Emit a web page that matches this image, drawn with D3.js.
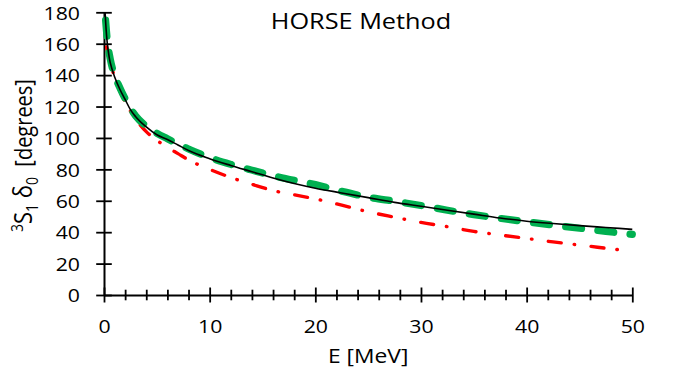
<!DOCTYPE html>
<html>
<head>
<meta charset="utf-8">
<script src="https://cdn.jsdelivr.net/npm/d3@7"></script>
<style>
  html, body { margin: 0; padding: 0; background: #fff; }
  svg { display: block; font-family: "Open Sans", sans-serif; }
</style>
</head>
<body>
<svg id="chart" width="675" height="373"></svg>
<script>
// ---- data: 3S1 phase shift (degrees) versus energy E (MeV) ----
const blackE = [0.1, 0.2, 0.3, 0.5, 0.75, 1, 1.5, 2, 2.5, 3, 4, 5, 6, 7, 8, 10, 12, 14, 16, 18, 20, 22.5, 25, 27.5, 30, 32.5, 35, 37.5, 40, 42.5, 45, 47.5, 50];
const blackDelta = [180, 169, 161, 151, 144, 139, 131, 124.5, 118, 113.5, 107, 102, 99, 95.5, 92, 86.8, 82.5, 78.5, 74.5, 71, 68, 65, 62, 59, 56.5, 54, 51.5, 49, 47, 45.5, 44.2, 43, 41.8];

const greenE = [0.15, 0.3, 0.6, 1, 1.5, 2, 3, 4, 5, 6, 8, 10, 12, 14, 16, 18, 20, 22.5, 25, 27.5, 30, 32.5, 35, 37.5, 40, 42.5, 45, 47.5, 50];
const greenDelta = [175, 163, 150, 140, 132, 125, 114, 107.5, 103, 99.5, 93, 87.5, 83.2, 79.5, 76, 73, 70.3, 66, 62.3, 59.7, 57, 54, 51.2, 48.8, 46.6, 44.5, 42.5, 40.5, 38.6];

const redE = [0.25, 0.5, 1, 1.5, 2, 3, 4, 5, 6, 7, 8, 10, 12, 14, 16, 18, 20, 22.5, 25, 27.5, 30, 32.5, 35, 37.5, 40, 42.5, 45, 47.5, 49];
const redDelta = [158, 150, 139, 130, 123, 112, 104, 98.5, 94, 90, 86, 80, 74.8, 70.5, 66.5, 63.8, 61.2, 57.2, 53, 49.5, 46.2, 43.5, 40.5, 38.2, 36, 33.8, 31.8, 29.8, 28.6];

const xMajorTicks = [0, 10, 20, 30, 40, 50];
const xMinorTicks = [2, 4, 6, 8, 12, 14, 16, 18, 22, 24, 26, 28, 32, 34, 36, 38, 42, 44, 46, 48];
const yTicks = [0, 20, 40, 60, 80, 100, 120, 140, 160, 180];

const titleText = "HORSE Method";
const xTitle = "E [MeV]";

// ---- layout ----
const SX = 1.17; // horizontal text stretch
const svg = d3.select("#chart");
const x = d3.scaleLinear().domain([0, 50]).range([104, 632.3]);
const y = d3.scaleLinear().domain([0, 180]).range([295, 12.3]);

// x axis: major ticks crossing the line, minor ticks shorter
const gx = svg.append("g").attr("transform", `translate(0,${y(0)})`)
  .call(d3.axisBottom(x).tickValues(xMajorTicks).tickSizeOuter(0).tickFormat(d3.format("d")));
gx.attr("font-family", null).attr("font-size", null);
gx.select(".domain").attr("stroke", "#000").attr("stroke-width", 2);
gx.selectAll(".tick line").attr("y1", -7.5).attr("y2", 7.5).attr("stroke", "#000").attr("stroke-width", 1.8);
gx.selectAll(".tick text")
  .attr("y", 38).attr("dy", null)
  .attr("font-size", 18.2).attr("fill", "#000")
  .attr("transform", `scale(${SX},1)`);

const gxm = svg.append("g").attr("transform", `translate(0,${y(0)})`)
  .call(d3.axisBottom(x).tickValues(xMinorTicks).tickSizeOuter(0).tickFormat(""));
gxm.select(".domain").remove();
gxm.selectAll(".tick line").attr("y1", -5.3).attr("y2", 5.3).attr("stroke", "#000").attr("stroke-width", 1.8);

// y axis
const gy = svg.append("g").attr("transform", `translate(${x(0)},0)`)
  .call(d3.axisLeft(y).tickValues(yTicks).tickSizeOuter(0));
gy.attr("font-family", null).attr("font-size", null);
gy.select(".domain").attr("stroke", "#000").attr("stroke-width", 2);
gy.selectAll(".tick line").attr("x1", -7.8).attr("x2", 7.8).attr("stroke", "#000").attr("stroke-width", 1.8);
gy.selectAll(".tick text")
  .attr("x", -24 / SX).attr("dy", null).attr("y", 6.8)
  .attr("font-size", 18.2).attr("fill", "#000")
  .attr("transform", `scale(${SX},1)`);

// ---- curves ----
const line = d3.line().x(d => x(d[0])).y(d => y(d[1])).curve(d3.curveMonotoneX);
const zip = (a, b) => a.map((v, i) => [v, b[i]]);

svg.append("path").datum(zip(redE, redDelta))
  .attr("d", line).attr("fill", "none")
  .attr("stroke", "#ff0000").attr("stroke-width", 3.4)
  .attr("stroke-linecap", "round")
  .attr("stroke-dasharray", "13 13 0.5 16.5");

svg.append("path").datum(zip(greenE, greenDelta))
  .attr("d", line).attr("fill", "none")
  .attr("stroke", "#00b050").attr("stroke-width", 7.2)
  .attr("stroke-linecap", "round")
  .attr("stroke-dasharray", "16 16.4");

svg.append("path").datum(zip(blackE, blackDelta))
  .attr("d", line).attr("fill", "none")
  .attr("stroke", "#000").attr("stroke-width", 1.6);

// ---- titles ----
svg.append("text")
  .attr("transform", `translate(361,28.5) scale(${SX},1)`)
  .attr("text-anchor", "middle").attr("font-size", 21.6).attr("fill", "#000")
  .text(titleText);

svg.append("text")
  .attr("transform", `translate(${(x(0) + x(50)) / 2},363) scale(${SX},1)`)
  .attr("text-anchor", "middle").attr("font-size", 19.5).attr("fill", "#000")
  .text(xTitle);

// y title: ³S₁ δ₀  [degrees]
const yt = svg.append("text")
  .attr("transform", `translate(32,232) scale(${SX},1) rotate(-90)`)
  .attr("text-anchor", "start").attr("fill", "#000");
yt.append("tspan").attr("font-size", 14).attr("dy", -7.7).text("3");
yt.append("tspan").attr("font-size", 22).attr("dy", 7.7).text("S");
yt.append("tspan").attr("font-size", 14).attr("dy", 5).text("1");
yt.append("tspan").attr("font-size", 22).attr("dy", -5).text("\u00a0\u03b4");
yt.append("tspan").attr("font-size", 14).attr("dy", 5).text("0");
yt.append("tspan").attr("font-size", 20).attr("dy", -5).text("\u00a0\u00a0[degrees]");
</script>
</body>
</html>
